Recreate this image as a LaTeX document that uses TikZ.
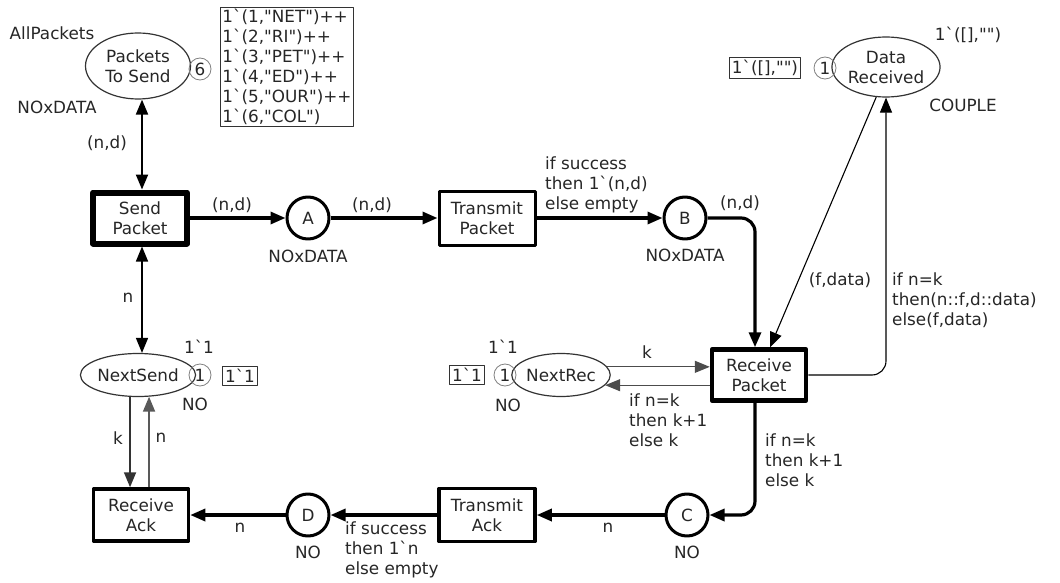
\documentclass[tikz,border=0pt]{standalone}
\usepackage{fontspec}
\newfontfamily\netfont{DejaVu Sans}
\usetikzlibrary{arrows.meta,shapes.geometric,positioning}

\begin{document}
\begin{tikzpicture}[
  x=1pt,y=-1pt,
  line join=round,
  >={Triangle[length=15pt,width=12pt]},
  every node/.style={font=\netfont\fontsize{16.8}{20}\selectfont,text=black!85},
  trans/.style={draw=black,rectangle,align=center,inner sep=0pt,line width=3pt},
  place/.style={draw=black,circle,minimum size=42pt,inner sep=0pt,line width=3pt},
  statep/.style={draw=black!80,ellipse,align=center,inner sep=0pt,line width=1.2pt},
  tok/.style={draw=black!50,circle,minimum size=22pt,inner sep=0pt,line width=0.8pt},
  initm/.style={draw=black!80,rectangle,align=left,inner sep=2.5pt,line width=1.3pt},
  heavy/.style={->,line width=3.2pt},
  light/.style={->,line width=1.2pt},
  lbl/.style={align=left,inner sep=0pt}
]
\useasboundingbox (0,0) rectangle (1060,583);

% places
\node[statep,minimum width=105pt,minimum height=66pt] (pts) at (138,66) {Packets\\To Send};
\node[tok] (ptsTok) at (200,69) {6};
\node[initm,inner sep=2pt] (ptsMark) at (287,67)
  {1`(1,"NET")++\\1`(2,"RI")++\\1`(3,"PET")++\\1`(4,"ED")++\\1`(5,"OUR")++\\1`(6,"COL")};
\node (ptsInit) at (52,33) {AllPackets};
\node (ptsType) at (57,107) {NOxDATA};

\node[statep,minimum width=106pt,minimum height=60pt] (dataR) at (886,67) {Data\\Received};
\node[tok] (dataTok) at (825,68) {1};
\node[initm] (dataMark) at (765,68) {1`([],"")};
\node (dataInit) at (968,35) {1`([],"")};
\node (dataType) at (963,105) {COUPLE};

\node[statep,minimum width=109pt,minimum height=43pt] (nextS) at (138,375) {NextSend};
\node[tok] (nextSTok) at (200,375) {1};
\node[initm] (nextSMark) at (240,376) {1`1};
\node (nextSInit) at (199,347) {1`1};
\node (nextSType) at (195,404) {NO};

\node[statep,minimum width=92pt,minimum height=43pt] (nextR) at (561,375) {NextRec};
\node[tok] (nextRTok) at (505,375) {1};
\node[initm] (nextRMark) at (467,375) {1`1};
\node (nextRInit) at (503,347) {1`1};
\node (nextRType) at (508,405) {NO};

\node[place] (pA) at (308,218) {A};
\node (pAType) at (308,256) {NOxDATA};
\node[place] (pB) at (685,218) {B};
\node (pBType) at (685,255) {NOxDATA};
\node[place] (pC) at (687,515) {C};
\node (pCType) at (687,552) {NO};
\node[place] (pD) at (308,515) {D};
\node (pDType) at (308,552) {NO};

% transitions
\node[trans,line width=6pt,minimum width=94pt,minimum height=51pt] (sendP) at (140,218) {Send\\Packet};
\node[trans,minimum width=96pt,minimum height=54pt] (tranP) at (487,218) {Transmit\\Packet};
\node[trans,line width=4.5pt,minimum width=94pt,minimum height=51pt] (recvP) at (759,375) {Receive\\Packet};
\node[trans,line width=3.5pt,minimum width=96pt,minimum height=53pt] (tranA) at (487,515) {Transmit\\Ack};
\node[trans,line width=3.5pt,minimum width=95pt,minimum height=52pt] (recvA) at (141,515) {Receive\\Ack};

% sender side
\draw[<->,line width=2pt] ([xshift=2pt]sendP.north) -- ([xshift=2pt]sendP.north |- pts.south);
\node[lbl] (l1) at (107,143) {(n,d)};
\draw[<->,line width=1.5pt] ([xshift=2pt]sendP.south) -- ([xshift=2pt]sendP.south |- nextS.north);
\node[lbl] (l2) at (128,298) {n};
\draw[light,line width=1.8pt,draw=black!80] (nextS.250) -- (nextS.250 |- recvA.north);
\node[lbl] (l3) at (118,438) {k};
\draw[light,line width=1.8pt,draw=black!65] (recvA.north -| nextS.297) -- (nextS.297);
\node[lbl] (l4) at (161,438) {n};

% packet channel
\draw[heavy] (sendP) -- (pA);
\node[lbl] (l5) at (232,205) {(n,d)};
\draw[heavy] (pA) -- (tranP);
\node[lbl] (l6) at (372,205) {(n,d)};
\draw[heavy] (tranP) -- (pB);
\node[lbl,anchor=west] (l7) at (545,185) {if success\\then 1`(n,d)\\else empty};
\draw[heavy,rounded corners=14pt] (pB.east) -| ([xshift=-4pt]recvP.north);
\node[lbl] (l8) at (740,203) {(n,d)};

% receiver side
\draw[light,line width=1.1pt] (dataR.252) -- ([xshift=11pt]recvP.north);
\node[lbl] (l9) at (840,280) {(f,data)};
\draw[light,line width=1.1pt,rounded corners=14pt] (recvP.east) -| (dataR.south);
\node[lbl,anchor=west] (l10) at (892,300) {if n=k\\then(n::f,d::data)\\else(f,data)};
\draw[light,draw=black!70] (nextR.10) -- (nextR.10 -| recvP.west);
\node[lbl] (l11) at (647,352) {k};
\draw[light,draw=black!70] (nextR.-13 -| recvP.west) -- (nextR.-13);
\node[lbl,anchor=west] (l12) at (629,420) {if n=k\\then k+1\\else k};

% acknowledgement channel
\draw[heavy,rounded corners=14pt] ([xshift=-4pt]recvP.south) |- (pC.east);
\node[lbl,anchor=west] (l13) at (765,460) {if n=k\\then k+1\\else k};
\draw[heavy] (pC) -- (tranA);
\node[lbl] (l14) at (608,528) {n};
\draw[heavy] (tranA) -- (pD);
\node[lbl,anchor=west] (l15) at (345,550) {if success\\then 1`n\\else empty};
\draw[heavy] (pD) -- (recvA);
\node[lbl] (l16) at (240,528) {n};

\end{tikzpicture}
\end{document}
